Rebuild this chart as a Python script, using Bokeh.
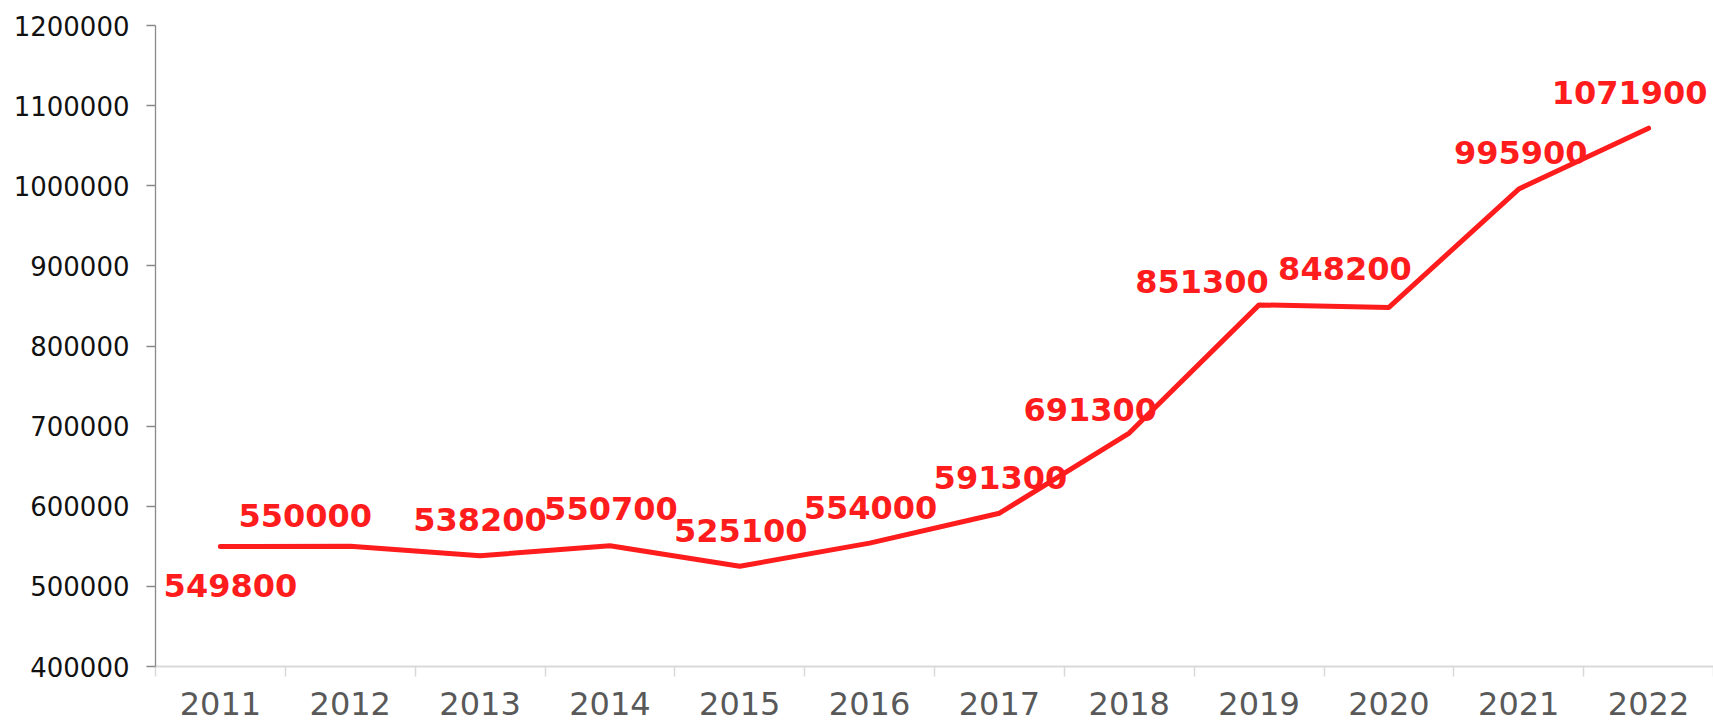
from bokeh.plotting import figure
from bokeh.models import ColumnDataSource, Range1d, FixedTicker
from bokeh.core.properties import value
from bokeh.embed import file_html
from bokeh.resources import INLINE

# ---- data ----
years = [2011, 2012, 2013, 2014, 2015, 2016, 2017, 2018, 2019, 2020, 2021, 2022]
values = [549800, 550000, 538200, 550700, 525100, 554000, 591300,
          691300, 851300, 848200, 995900, 1071900]
year_labels = [str(y) for y in years]
y_ticks = [400000, 500000, 600000, 700000, 800000, 900000, 1000000, 1100000, 1200000]

# ---- label placement (screen pixels, style only) ----
label_dx = [10, -45, 0, 1, 1, 1, 1, -39, -57, -44, 2, -19]
label_dy = [39, -31, -36, -37, -36, -36, -36, -24, -23, -39, -37, -36]

RED = "#ff1c1c"

src = ColumnDataSource(dict(
    x=years, y=values, txt=[str(v) for v in values],
    dx=label_dx, dy=label_dy,
))

p = figure(width=1713, height=724, output_backend="svg", toolbar_location=None,
           x_range=Range1d(years[0] - 0.5, years[-1] + 0.5),
           y_range=Range1d(y_ticks[0], y_ticks[-1]),
           min_border_left=155, min_border_right=0, min_border_top=25,
           min_border_bottom=58)
p.outline_line_color = None
p.xgrid.visible = False
p.ygrid.visible = False
p.background_fill_color = "white"
p.border_fill_color = "white"

p.line("x", "y", source=src, line_color=RED, line_width=5, line_cap="round")
p.text("x", "y", text="txt", source=src, x_offset="dx", y_offset="dy",
       text_color=RED, text_font=value("DejaVu Sans"), text_font_style="bold",
       text_font_size="32px", text_align="center", text_baseline="middle")

# y axis
ya = p.yaxis[0]
ya.ticker = FixedTicker(ticks=y_ticks)
ya.axis_line_color = "#898989"
ya.axis_line_width = 1.3
ya.major_tick_line_color = "#898989"
ya.major_tick_line_width = 1.3
ya.major_tick_out = 9
ya.major_tick_in = 0
ya.minor_tick_line_color = None
ya.major_label_standoff = 17
ya.major_label_text_font = "DejaVu Sans"
ya.major_label_text_font_size = "26px"
ya.major_label_text_color = "#111111"
ya.formatter.use_scientific = False

# x axis: labels at centres, ticks between categories
xa = p.xaxis[0]
xa.ticker = FixedTicker(ticks=years, minor_ticks=[y - 0.5 for y in years] + [years[-1] + 0.5])
xa.major_label_overrides = {y: s for y, s in zip(years, year_labels)}
xa.axis_line_color = "#d9d9d9"
xa.axis_line_width = 2
xa.major_tick_line_color = None
xa.major_tick_out = 0
xa.major_tick_in = 0
xa.minor_tick_line_color = "#d9d9d9"
xa.minor_tick_line_width = 1.5
xa.minor_tick_out = 10
xa.minor_tick_in = 0
xa.major_label_standoff = 15
xa.major_label_text_line_height = 0.75
xa.major_label_text_font = "DejaVu Sans"
xa.major_label_text_font_size = "32px"
xa.major_label_text_color = "#595959"

open("out.html", "w").write(file_html(p, INLINE))
